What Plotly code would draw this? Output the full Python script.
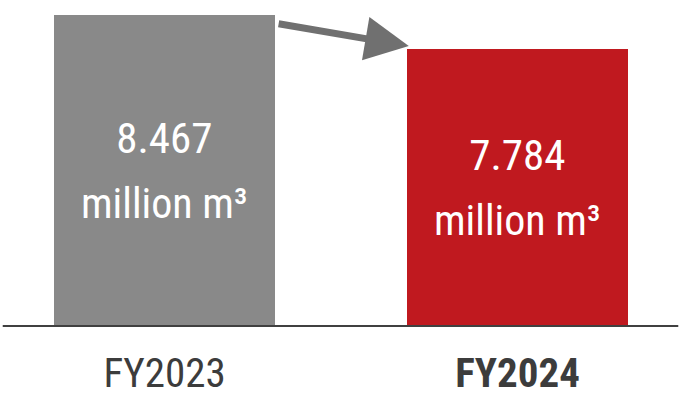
import plotly.graph_objects as go

categories = ["FY2023", "FY2024"]
tick_labels = ["FY2023", "<b>FY2024</b>"]
values = [8.467, 7.784]
value_labels = ["8.467", "7.784"]
unit_label = "million m³"
bar_colors = ["#898989", "#C0191F"]

FONT = "Liberation Sans Narrow, Roboto Condensed, Arial Narrow, sans-serif"
BAR_W = 0.626
Y_MIN, Y_MAX = 2.222, 8.768
x_pos = list(range(len(categories)))

fig = go.Figure()
fig.add_trace(go.Bar(
    x=x_pos, y=values, width=BAR_W,
    marker=dict(color=bar_colors, line=dict(width=0)),
    hoverinfo="skip",
))

# value labels centred inside the visible part of each bar
for xi, v, lab in zip(x_pos, values, value_labels):
    fig.add_annotation(
        x=xi, y=(v + Y_MIN) / 2, xref="x", yref="y",
        text=f"<span style='font-size:43px'>{lab}</span><br>"
             f"<span style='font-size:42px'>{unit_label}</span>",
        showarrow=False, xanchor="center", yanchor="middle",
        font=dict(family=FONT, size=50, color="white"),
    )

# arrow from FY2023 bar top to FY2024 bar top
fig.add_annotation(
    x=x_pos[1] - BAR_W / 2 + 0.005, y=values[1] + 0.06,
    ax=x_pos[0] + BAR_W / 2 + 0.006, ay=values[0] - 0.17,
    xref="x", yref="y", axref="x", ayref="y",
    text="", showarrow=True, arrowhead=2, arrowsize=1.25,
    arrowwidth=7, arrowcolor="#707070", standoff=0, startstandoff=0,
)

# baseline
fig.add_shape(type="line", xref="paper", yref="paper",
              x0=0.004, x1=0.996, y0=0, y1=0,
              line=dict(color="#404040", width=2))

fig.update_layout(
    width=681, height=398,
    margin=dict(l=0, r=0, t=0, b=72),
    paper_bgcolor="white", plot_bgcolor="white",
    showlegend=False, bargap=0,
    xaxis=dict(range=[-0.466, 1.463], tickvals=x_pos, ticktext=tick_labels,
               showgrid=False, zeroline=False, showline=False, ticks="",
               tickfont=dict(family=FONT, size=41, color="#3C3C3C"),
               ticklabelstandoff=19, automargin=False, fixedrange=True),
    yaxis=dict(range=[Y_MIN, Y_MAX], visible=False, showgrid=False,
               zeroline=False, automargin=False, fixedrange=True),
)

fig.write_html("out.html", config={"displayModeBar": False},
               post_script="document.body.style.margin='0';document.body.style.padding='0';")
